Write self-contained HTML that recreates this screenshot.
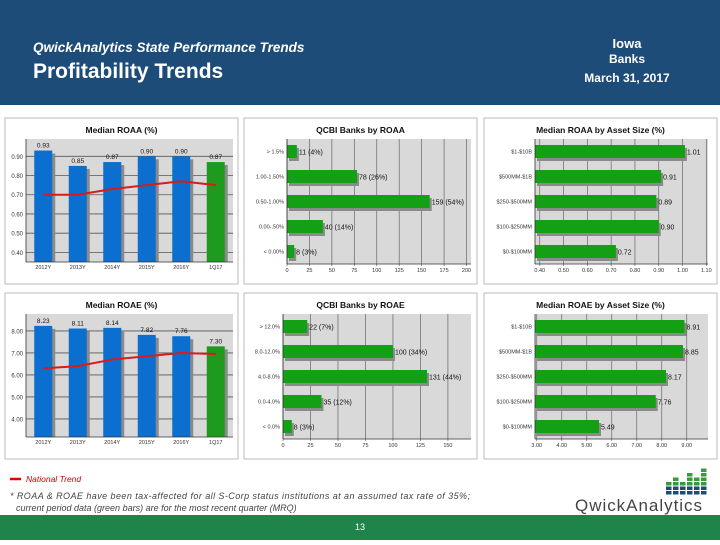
<!DOCTYPE html>
<html><head><meta charset="utf-8"><style>
body{margin:0;width:720px;height:540px;overflow:hidden;background:#fff;font-family:"Liberation Sans",sans-serif}
</style></head><body>
<svg id="s" width="720" height="540" xmlns="http://www.w3.org/2000/svg">
<rect x="0" y="0" width="720" height="105" fill="#1d4c78"/>
<text x="33" y="52" fill="#fff" font-size="13.5" font-weight="bold" font-style="italic">QwickAnalytics State Performance Trends</text>
<text x="33" y="78" fill="#fff" font-size="21" font-weight="bold">Profitability Trends</text>
<text x="627" y="48" fill="#fff" font-size="13" font-weight="bold" text-anchor="middle">Iowa</text>
<text x="627" y="63" fill="#fff" font-size="12" font-weight="bold" text-anchor="middle">Banks</text>
<text x="627" y="82" fill="#fff" font-size="12" font-weight="bold" text-anchor="middle">March 31, 2017</text>
<g id="charts"></g>
<line x1="10" y1="479" x2="21" y2="479" stroke="#e00000" stroke-width="2.5"/>
<text x="26" y="482" fill="#d00000" font-size="8.5" font-style="italic">National Trend</text>
<text x="10" y="499" fill="#444" font-size="9" font-style="italic" textLength="460">* ROAA &amp; ROAE have been tax-affected for all S-Corp status institutions at an assumed tax rate of 35%;</text>
<text x="16" y="511" fill="#444" font-size="9" font-style="italic">current period data (green bars) are for the most recent quarter (MRQ)</text>
<g id="logo"></g>
<text x="575" y="511" fill="#444" font-size="17" textLength="127">QwickAnalytics</text>
<rect x="0" y="515" width="720" height="25" fill="#1e8449"/>
<text x="360" y="530" fill="#fff" font-size="9" text-anchor="middle">13</text>
</svg>
<script>
const NS="http://www.w3.org/2000/svg";
const roaaYears=["2012Y","2013Y","2014Y","2015Y","2016Y","1Q17"];
const roaaValues=[0.93,0.85,0.87,0.90,0.90,0.87];
const roaaTrend=[0.70,0.70,0.73,0.75,0.77,0.75];
const roaaTicks=[0.40,0.50,0.60,0.70,0.80,0.90];
const roaeYears=["2012Y","2013Y","2014Y","2015Y","2016Y","1Q17"];
const roaeValues=[8.23,8.11,8.14,7.82,7.76,7.30];
const roaeTrend=[6.30,6.40,6.70,6.85,7.00,6.95];
const roaeTicks=[4,5,6,7,8];
const roaaBucketCats=["> 1.5%","1.00-1.50%","0.50-1.00%","0.00-.50%","< 0.00%"];
const roaaBucketCounts=[11,78,159,40,8];
const roaaBucketLabels=["11 (4%)","78 (26%)","159 (54%)","40 (14%)","8 (3%)"];
const roaaBucketTicks=[0,25,50,75,100,125,150,175,200];
const roaeBucketCats=["> 12.0%","8.0-12.0%","4.0-8.0%","0.0-4.0%","< 0.0%"];
const roaeBucketCounts=[22,100,131,35,8];
const roaeBucketLabels=["22 (7%)","100 (34%)","131 (44%)","35 (12%)","8 (3%)"];
const roaeBucketTicks=[0,25,50,75,100,125,150];
const sizeCats=["$1-$10B","$500MM-$1B","$250-$500MM","$100-$250MM","$0-$100MM"];
const roaaSizeValues=[1.01,0.91,0.89,0.90,0.72];
const roaaSizeTicks=[0.4,0.5,0.6,0.7,0.8,0.9,1.0,1.1];
const roaeSizeValues=[8.91,8.85,8.17,7.76,5.49];
const roaeSizeTicks=[3,4,5,6,7,8,9];

const root=document.getElementById('charts');
function mk(tag,attrs,parent,txt){const e=document.createElementNS(NS,tag);for(const k in attrs)e.setAttribute(k,attrs[k]);if(txt!==undefined)e.textContent=txt;(parent||root).appendChild(e);return e;}

function panel(x,y,w,h,title,name){
  const g=mk('g',{});
  
  
  const r=mk('rect',{x:x,y:y,width:w,height:h,fill:'#fff',stroke:'#bbb','stroke-width':1},g);
  
  
  const t=mk('text',{x:x+w/2,y:y+15,'font-size':8.5,'font-weight':'bold','text-anchor':'middle',fill:'#111'},g,title);
  
  
  return g;
}

function columnChart(g,name,px0,px1,py0,py1,vmin,vmax,cats,vals,trend,ticks,dec){
  const ys=v=>py1-(v-vmin)/(vmax-vmin)*(py1-py0);
  const bg=mk('rect',{x:px0,y:py0,width:px1-px0,height:py1-py0,fill:'#d9d9d9'},g);
  
  
  ticks.forEach(t=>{
    mk('line',{x1:px0,x2:px1,y1:ys(t),y2:ys(t),stroke:'#555','stroke-width':0.8},g);
    const tl=mk('text',{x:px0-3,y:ys(t)+2.5,'font-size':6,'text-anchor':'end',fill:'#333'},g,t.toFixed(2));
    
    
  });
  const step=(px1-px0)/cats.length, bw=18;
  const pts=[];
  cats.forEach((c,i)=>{
    const cx=px0+step*(i+0.5), top=ys(vals[i]);
    mk('rect',{x:cx-bw/2+3,y:top+3,width:bw,height:py1-top-3,fill:'#8a8a8a'},g);
    const b=mk('rect',{x:cx-bw/2,y:top,width:bw,height:py1-top,fill:i==cats.length-1?'#1e9a1e':'#0b6fd0'},g);
    
    
    const vl=mk('text',{x:cx,y:top-3,'font-size':6.5,'text-anchor':'middle',fill:'#111'},g,vals[i].toFixed(dec));
    
    
    const xl=mk('text',{x:cx,y:py1+7,'font-size':5.5,'text-anchor':'middle',fill:'#333'},g,c);
    
    
    pts.push(cx+','+ys(trend[i]));
  });
  mk('line',{x1:px0,x2:px0,y1:py0,y2:py1,stroke:'#333','stroke-width':0.8},g);
  mk('line',{x1:px0,x2:px1,y1:py1,y2:py1,stroke:'#333','stroke-width':0.8},g);
  const pl=mk('polyline',{points:pts.join(' '),fill:'none',stroke:'#d81b1b','stroke-width':2,'stroke-linejoin':'round'},g);
  
  
}

function barChart(g,name,px0,px1,py0,py1,vmin,vmax,cats,vals,labels,ticks,tickFmt){
  const xs=v=>px0+(v-vmin)/(vmax-vmin)*(px1-px0);
  const bg=mk('rect',{x:px0,y:py0,width:px1-px0,height:py1-py0,fill:'#d9d9d9'},g);
  
  
  ticks.forEach(t=>{
    mk('line',{x1:xs(t),x2:xs(t),y1:py0,y2:py1+2,stroke:'#666','stroke-width':0.7},g);
    const tl=mk('text',{x:xs(t),y:py1+8,'font-size':5.5,'text-anchor':'middle',fill:'#333'},g,tickFmt(t));
    
    
  });
  const step=(py1-py0)/cats.length, bh=13;
  cats.forEach((c,i)=>{
    const cy=py0+step*(i+0.5), w=xs(vals[i])-px0;
    mk('rect',{x:px0+2,y:cy-bh/2+3,width:Math.max(w,0),height:bh,fill:'#8a8a8a'},g);
    const b=mk('rect',{x:px0,y:cy-bh/2,width:Math.max(w,0),height:bh,fill:'#14a014'},g);
    
    
    const vl=mk('text',{x:px0+w+2,y:cy+3,'font-size':7,fill:'#111'},g,labels[i]);
    
    
    const cl=mk('text',{x:px0-3,y:cy+2,'font-size':5.5,'text-anchor':'end',fill:'#333'},g,c);
    
    
  });
  mk('line',{x1:px0,x2:px0,y1:py0,y2:py1,stroke:'#333','stroke-width':0.8},g);
  mk('line',{x1:px0,x2:px1,y1:py1,y2:py1,stroke:'#333','stroke-width':0.8},g);
}

let g;
g=panel(5,118,233,166,'Median ROAA (%)','median-roaa-chart');
columnChart(g,'median-roaa',26,233,139,262,0.35,0.99,roaaYears,roaaValues,roaaTrend,roaaTicks,2);
g=panel(244,118,233,166,'QCBI Banks by ROAA','roaa-distribution-chart');
barChart(g,'roaa-distribution',287,471,139,264,0,205,roaaBucketCats,roaaBucketCounts,roaaBucketLabels,roaaBucketTicks,t=>t);
g=panel(484,118,233,166,'Median ROAA by Asset Size (%)','roaa-by-size-chart');
barChart(g,'roaa-by-size',535,708,139,264,0.38,1.107,sizeCats,roaaSizeValues,roaaSizeValues.map(v=>v.toFixed(2)),roaaSizeTicks,t=>t.toFixed(2));
g=panel(5,293,233,166,'Median ROAE (%)','median-roae-chart');
columnChart(g,'median-roae',26,233,314,437,3.18,8.77,roaeYears,roaeValues,roaeTrend,roaeTicks,2);
g=panel(244,293,233,166,'QCBI Banks by ROAE','roae-distribution-chart');
barChart(g,'roae-distribution',283,471,314,439,0,171,roaeBucketCats,roaeBucketCounts,roaeBucketLabels,roaeBucketTicks,t=>t);
g=panel(484,293,233,166,'Median ROAE by Asset Size (%)','roae-by-size-chart');
barChart(g,'roae-by-size',535,708,314,439,2.93,9.85,sizeCats,roaeSizeValues,roaeSizeValues.map(v=>v.toFixed(2)),roaeSizeTicks,t=>t.toFixed(2));

const lg=document.getElementById('logo');
const colH=[3,4,3,5,4,6];
colH.forEach((h,c)=>{for(let r=0;r<h;r++){mk('rect',{x:666+c*7,y:491-r*4.5,width:5.5,height:3.5,fill:r<2?'#1d4c78':'#3a9a3a'},lg);}});
</script>
</body></html>
